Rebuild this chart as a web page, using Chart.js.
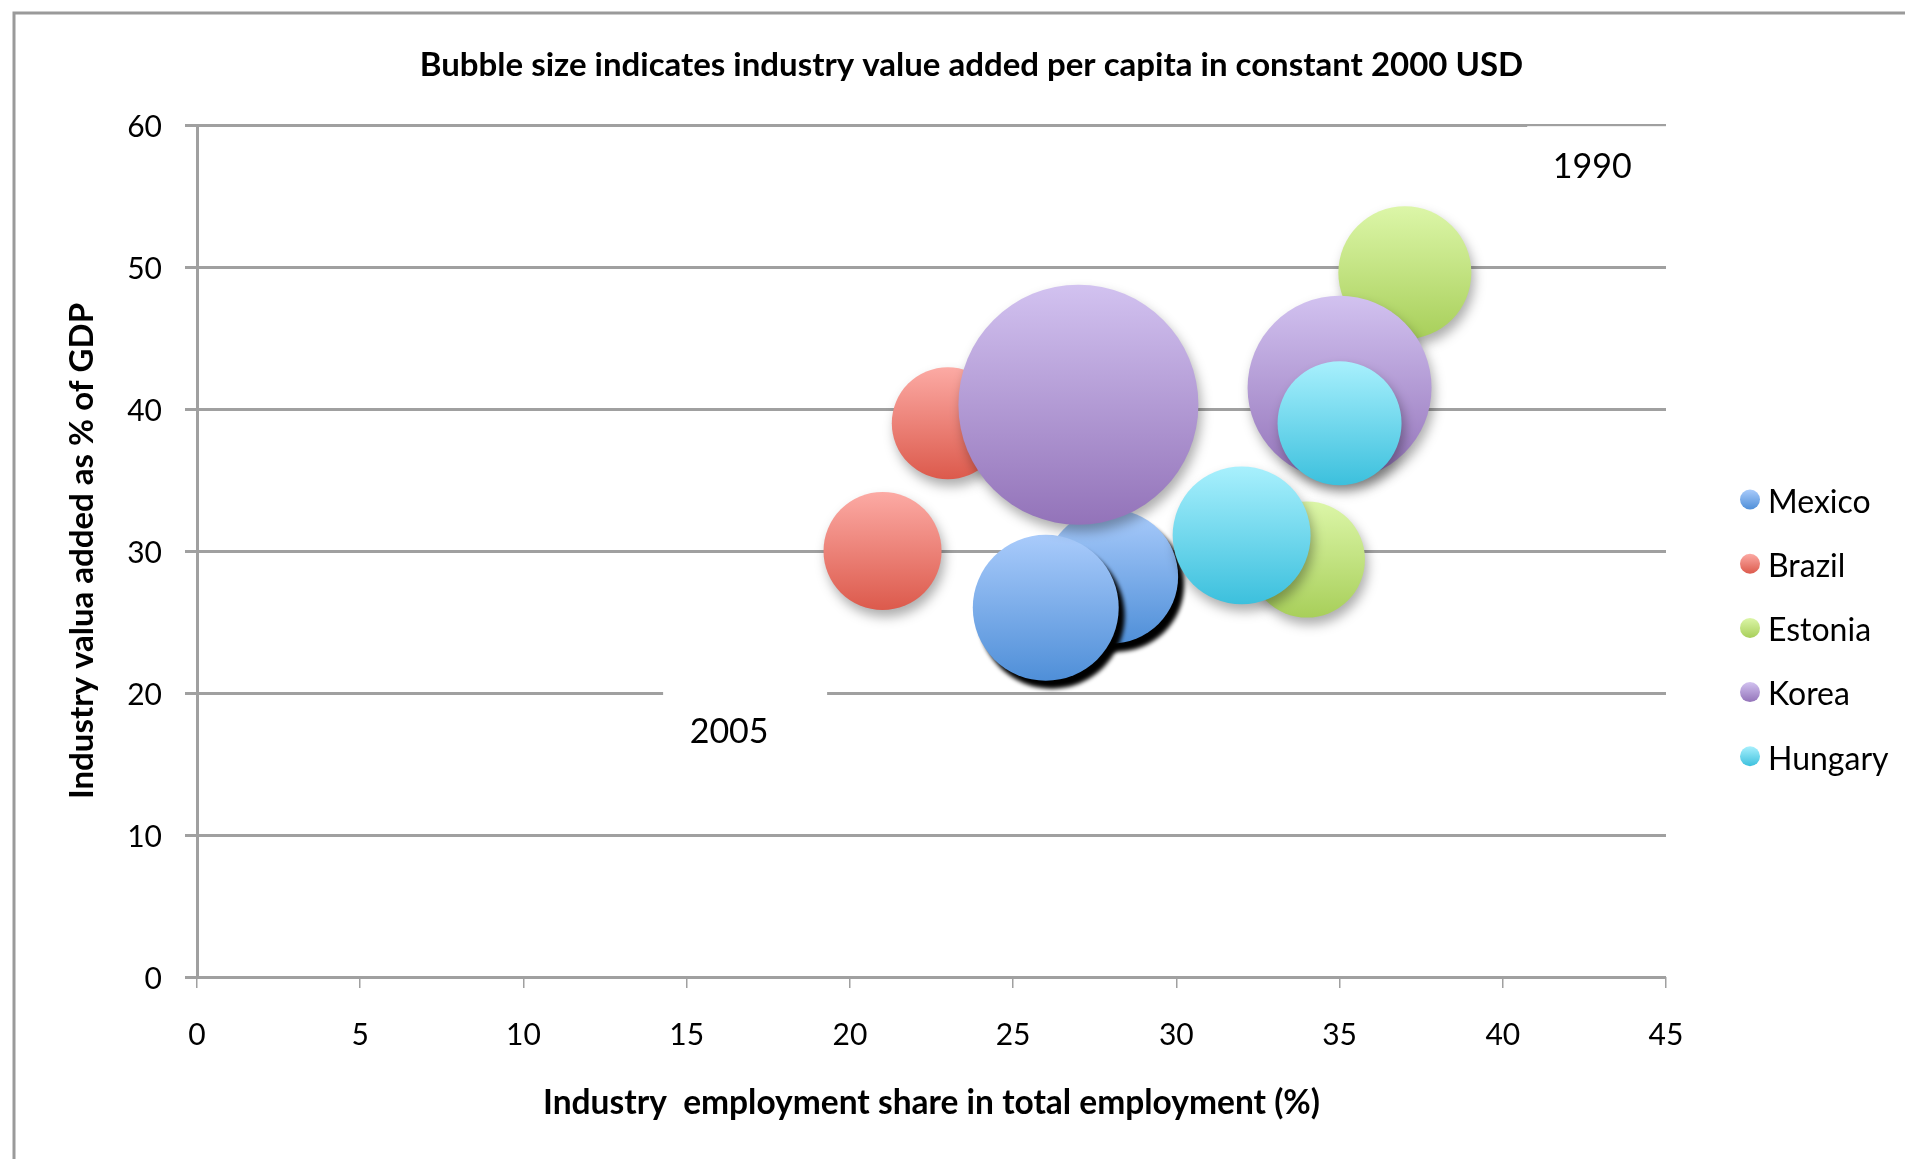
<!DOCTYPE html>
<html>
<head>
<meta charset="utf-8">
<script src="https://cdn.jsdelivr.net/npm/chart.js@4.4.1/dist/chart.umd.min.js"></script>
<style>
  html, body { margin: 0; padding: 0; background: #fff; }
  #wrap { width: 1905px; height: 1159px; }
</style>
</head>
<body>
<div id="wrap"><canvas id="myChart" width="1905" height="1159"></canvas></div>
<script>
// data
const countries = ['Mexico', 'Brazil', 'Estonia', 'Korea', 'Hungary'];
const years = ['1990', '2005'];
// industry employment share in total employment (%)
const empShare1990 = [28, 23, 37, 35, 35];
const empShare2005 = [26, 21, 34, 27, 32];
// industry value added as % of GDP
const vaShare1990 = [28.2, 39, 49.6, 41.5, 39];
const vaShare2005 = [26, 30, 29.4, 40.3, 31.1];
// industry value added per capita, constant 2000 USD (bubble size)
const vaPerCap1990 = [1750, 1220, 1720, 3290, 1495];
const vaPerCap2005 = [2070, 1355, 1310, 5600, 1850];

const xTicks = [0, 5, 10, 15, 20, 25, 30, 35, 40, 45];
const yTicks = [0, 10, 20, 30, 40, 50, 60];

// year labels placed in data coordinates
const yearLabelX = [42.74, 16.3];
const yearLabelY = [57.1, 17.3];

const topColors = ['#a9cbfb', '#fcaaa4', '#dcf6a8', '#d2c2f0', '#a8f0fd'];
const bottomColors = ['#4f8fd8', '#dc5a4c', '#a8cf5a', '#9373b9', '#3cc0dd'];
const grey = '#a0a0a0';
const maxRadius = 120;
const maxValue = Math.max(...vaPerCap1990, ...vaPerCap2005);

function bubbleRadius(v) {
    return maxRadius * Math.sqrt(v / maxValue);
}

function bubbleGradient(c, i) {
    const chart = c.chart;
    const pt = c.raw;
    if (!pt || !chart.chartArea) return bottomColors[i];
    const y = chart.scales.y.getPixelForValue(pt.y);
    const g = chart.ctx.createLinearGradient(0, y - pt.r, 0, y + pt.r);
    g.addColorStop(0, topColors[i]);
    g.addColorStop(1, bottomColors[i]);
    return g;
}

const datasets = countries.map((name, i) => ({
    label: name,
    data: [
        {x: empShare1990[i], y: vaShare1990[i], r: bubbleRadius(vaPerCap1990[i])},
        {x: empShare2005[i], y: vaShare2005[i], r: bubbleRadius(vaPerCap2005[i])},
    ],
    backgroundColor: (c) => bubbleGradient(c, i),
    borderWidth: 0,
    order: countries.length - i,
    shadow: i === 0 ? 'hard' : 'soft',
}));

const framePlugin = {
    id: 'frame',
    beforeDraw(chart) {
        const ctx = chart.ctx;
        ctx.save();
        ctx.fillStyle = '#fff';
        ctx.fillRect(0, 0, chart.width, chart.height);
        ctx.strokeStyle = '#9a9a9a';
        ctx.lineWidth = 3;
        ctx.strokeRect(14, 13, chart.width + 50, chart.height + 50);
        ctx.restore();
    }
};

const shadowPlugin = {
    id: 'bubbleShadow',
    beforeDatasetDraw(chart, args) {
        const ds = chart.data.datasets[args.index];
        const ctx = chart.ctx;
        ctx.save();
        if (ds.shadow === 'hard') {
            ctx.shadowColor = 'rgba(0,0,0,1)';
            ctx.shadowBlur = 4;
            ctx.shadowOffsetX = 6;
            ctx.shadowOffsetY = 8;
        } else {
            ctx.shadowColor = 'rgba(0,0,0,0.32)';
            ctx.shadowBlur = 12;
            ctx.shadowOffsetX = 3;
            ctx.shadowOffsetY = 7;
        }
    },
    afterDatasetDraw(chart) {
        chart.ctx.restore();
    }
};

const yearPlugin = {
    id: 'yearLabels',
    beforeDatasetsDraw(chart) {
        const ctx = chart.ctx;
        const sx = chart.scales.x, sy = chart.scales.y;
        const boxes = [[-65, 80, -40, 40], [-66, 98, -41, 40]];
        ctx.save();
        years.forEach((yr, i) => {
            const cx = sx.getPixelForValue(yearLabelX[i]);
            const cy = sy.getPixelForValue(yearLabelY[i]);
            const b = boxes[i];
            ctx.fillStyle = '#fff';
            ctx.fillRect(cx + b[0], cy + b[2], b[1] - b[0], b[3] - b[2]);
            ctx.fillStyle = '#000';
            ctx.font = '34px Lato';
            ctx.textAlign = 'center';
            ctx.textBaseline = 'middle';
            ctx.fillText(yr, cx, cy + 1);
        });
        ctx.restore();
    }
};

const legendPlugin = {
    id: 'sideLegend',
    afterDraw(chart) {
        const ctx = chart.ctx;
        ctx.save();
        chart.data.datasets.forEach((ds, i) => {
            const y = 502.5 + i * 64.2;
            const g = ctx.createLinearGradient(0, y - 13, 0, y + 7);
            g.addColorStop(0, topColors[i]);
            g.addColorStop(1, bottomColors[i]);
            ctx.fillStyle = g;
            ctx.beginPath();
            ctx.arc(1750, y - 3, 10, 0, Math.PI * 2);
            ctx.fill();
            ctx.fillStyle = '#000';
            ctx.font = '32px Lato';
            ctx.textAlign = 'left';
            ctx.textBaseline = 'middle';
            ctx.fillText(ds.label, 1768, y);
        });
        ctx.restore();
    }
};

Chart.defaults.font.family = 'Lato';
Chart.defaults.color = '#000';

const ctx = document.getElementById('myChart').getContext('2d');
const chart = new Chart(ctx, {
    type: 'bubble',
    data: { datasets: datasets },
    plugins: [framePlugin, shadowPlugin, yearPlugin, legendPlugin],
    options: {
        responsive: false,
        devicePixelRatio: 1,
        animation: false,
        events: [],
        clip: false,
        layout: { padding: { left: 38, right: 0, top: 0, bottom: 0 } },
        plugins: {
            legend: { display: false },
            tooltip: { enabled: false },
            title: {
                display: true,
                text: 'Bubble size indicates industry value added per capita in constant 2000 USD',
                font: { size: 33, weight: 'bold' },
                color: '#000',
                padding: { top: 45.4, bottom: 40 }
            }
        },
        scales: {
            x: {
                type: 'linear',
                min: 0,
                max: 45,
                afterBuildTicks: (s) => { s.ticks = xTicks.map(v => ({value: v})); },
                afterFit: (s) => { s.height = 182; },
                ticks: { font: { size: 30 }, padding: 29.5, color: '#000' },
                grid: { drawOnChartArea: false, drawTicks: true, tickLength: 11, color: grey, lineWidth: 1.5 },
                border: { display: false },
                title: {
                    display: true,
                    text: 'Industry  employment share in total employment (%)',
                    font: { size: 33.5, weight: 'bold' },
                    color: '#000',
                    padding: { top: 0, bottom: 36 }
                }
            },
            y: {
                type: 'linear',
                min: 0,
                max: 60,
                afterBuildTicks: (s) => { s.ticks = yTicks.map(v => ({value: v})); },
                afterFit: (s) => { s.width = 159; },
                ticks: { font: { size: 30 }, padding: 23, labelOffset: 2, color: '#000' },
                grid: { drawTicks: true, tickLength: 12, color: grey, lineWidth: 3 },
                border: { display: true, color: grey, width: 3 },
                title: {
                    display: true,
                    text: 'Industry valua added as % of GDP',
                    font: { size: 33, weight: 'bold' },
                    color: '#000',
                    padding: { top: 25, bottom: 0 }
                }
            },
            legendSpace: {
                type: 'linear',
                position: 'right',
                min: 0,
                max: 1,
                afterFit: (s) => { s.width = 239; },
                ticks: { display: false },
                grid: { display: false },
                border: { display: false }
            }
        }
    }
});
</script>
</body>
</html>
